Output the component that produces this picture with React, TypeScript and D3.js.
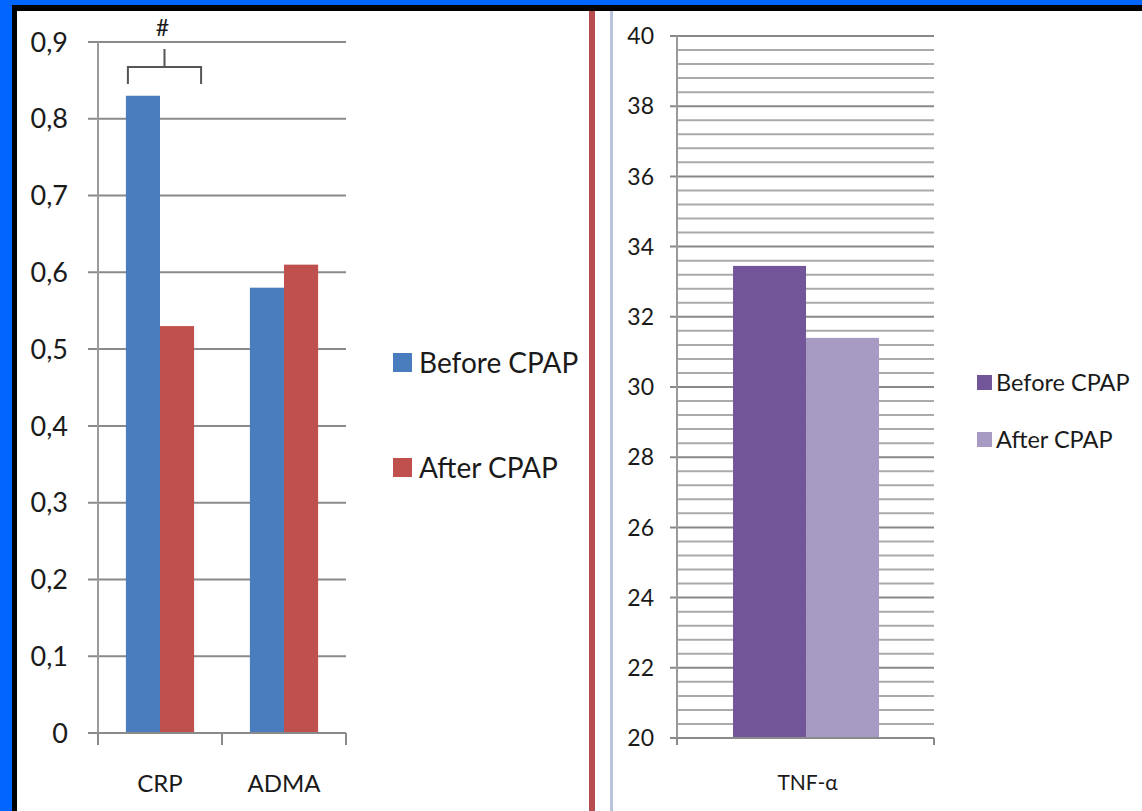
import React from "react";
import * as d3 from "d3";

const leftCategories = ["CRP", "ADMA"];
const leftSeries = ["Before CPAP", "After CPAP"];
const leftBefore = [0.83, 0.58];
const leftAfter = [0.53, 0.61];
const leftTicks = [0, 0.1, 0.2, 0.3, 0.4, 0.5, 0.6, 0.7, 0.8, 0.9];

const rightCategories = ["TNF-α"];
const rightSeries = ["Before CPAP", "After CPAP"];
const rightBefore = [33.45];
const rightAfter = [31.4];
const rightTicks = [20, 22, 24, 26, 28, 30, 32, 34, 36, 38, 40];

const leftColors = ["#4a7dbd", "#c0504d"];
const rightColors = ["#725699", "#a79bc4"];

const FONT = "Lato, 'Open Sans', sans-serif";

export default function App() {
  const W = 1142, H = 811;

  // Left chart scales
  const lx0 = d3.scaleBand<string>().domain(leftCategories).range([98, 346]);
  const lbw = lx0.bandwidth();
  const lx1 = d3.scaleBand<string>().domain(leftSeries).range([lbw * 0.225, lbw * 0.775]);
  const ly = d3.scaleLinear().domain([0, 0.9]).range([733, 42]);
  const leftVals = [leftBefore, leftAfter];

  // Right chart scales
  const rx0 = d3.scaleBand<string>().domain(rightCategories).range([677, 934]);
  const rbw = rx0.bandwidth();
  const rx1 = d3.scaleBand<string>().domain(rightSeries).range([rbw * 0.218, rbw * 0.786]);
  const ry = d3.scaleLinear().domain([20, 40]).range([738, 36]);
  const rightVals = [rightBefore, rightAfter];
  const minor = d3.range(0, 51).map((i) => 20 + i * 0.4).filter((v) => Math.abs(v / 2 - Math.round(v / 2)) > 0.01);

  const fmt = (v: number) => (v === 0 ? "0" : d3.format(".1f")(v).replace(".", ","));

  const crpX = lx0("CRP")!;
  const bx1 = crpX + lx1("Before CPAP")! + 2;
  const bx2 = crpX + lx1("After CPAP")! + lx1.bandwidth() + 7;
  const bmid = (bx1 + bx2) / 2;

  return (
    <svg width={W} height={H} style={{ position: "absolute", left: 0, top: 0 }} fontFamily={FONT}>
      <rect x={0} y={0} width={W} height={H} fill="#0066ff" />
      <rect x={12} y={5} width={W - 12} height={H - 5} fill="#000" />
      <rect x={17} y={11} width={W - 17} height={H - 11} fill="#ffffff" />

      {/* Left chart gridlines */}
      {leftTicks.map((t) => (
        <line key={"lg" + t} x1={88} x2={346} y1={ly(t)} y2={ly(t)} stroke="#8a8a8a" strokeWidth={2} />
      ))}
      {leftTicks.map((t) => (
        <text key={"lt" + t} x={68} y={ly(t)} dy="0.36em" textAnchor="end" fontSize={27} fill="#1a1a1a">
          {fmt(t)}
        </text>
      ))}
      {/* Left bars */}
      {leftCategories.map((c, ci) =>
        leftSeries.map((s, si) => (
          <rect
            key={c + s}
            x={lx0(c)! + lx1(s)!}
            y={ly(leftVals[si][ci])}
            width={lx1.bandwidth()}
            height={ly(0) - ly(leftVals[si][ci])}
            fill={leftColors[si]}
          />
        ))
      )}
      {/* Left axes */}
      <line x1={98} x2={98} y1={42} y2={745} stroke="#9a9a9a" strokeWidth={2} />
      <line x1={98} x2={346} y1={ly(0)} y2={ly(0)} stroke="#8a8a8a" strokeWidth={2} />
      {[98, 98 + lbw, 98 + 2 * lbw].map((x) => (
        <line key={"ltk" + x} x1={x} x2={x} y1={ly(0)} y2={745} stroke="#8a8a8a" strokeWidth={2} />
      ))}
      {leftCategories.map((c) => (
        <text key={"lc" + c} x={lx0(c)! + lbw / 2} y={792} textAnchor="middle" fontSize={24} fill="#1a1a1a">
          {c}
        </text>
      ))}
      {/* Significance bracket */}
      <path
        d={`M${bx1},84 V67 H${bx2} V84 M${bmid},67 V49`}
        fill="none"
        stroke="#555"
        strokeWidth={2}
      />
      <text x={bmid - 2} y={36} textAnchor="middle" fontSize={23} fill="#1a1a1a">#</text>

      {/* Left legend */}
      {leftSeries.map((s, i) => (
        <g key={"ll" + s} transform={`translate(393, ${353 + i * 105})`}>
          <rect x={0} y={0} width={19} height={19} fill={leftColors[i]} />
          <text x={26} y={20} fontSize={28} fill="#1a1a1a">{s}</text>
        </g>
      ))}

      {/* Separator */}
      <line x1={592} x2={592} y1={11} y2={H} stroke="#b54c52" strokeWidth={6} />
      <line x1={611.5} x2={611.5} y1={11} y2={H} stroke="#b9c4dc" strokeWidth={3} />

      {/* Right chart gridlines */}
      {minor.map((v) => (
        <line key={"rm" + v} x1={677} x2={934} y1={ry(v)} y2={ry(v)} stroke="#aaaaaa" strokeWidth={2} />
      ))}
      {rightTicks.map((t) => (
        <line key={"rg" + t} x1={670} x2={934} y1={ry(t)} y2={ry(t)} stroke="#888" strokeWidth={2} />
      ))}
      {rightTicks.map((t) => (
        <text key={"rt" + t} x={654} y={ry(t)} dy="0.36em" textAnchor="end" fontSize={23} fill="#1a1a1a">
          {t}
        </text>
      ))}
      {/* Right bars */}
      {rightCategories.map((c, ci) =>
        rightSeries.map((s, si) => (
          <rect
            key={c + s}
            x={rx0(c)! + rx1(s)!}
            y={ry(rightVals[si][ci])}
            width={rx1.bandwidth()}
            height={ry(20) - ry(rightVals[si][ci])}
            fill={rightColors[si]}
          />
        ))
      )}
      <line x1={677} x2={677} y1={36} y2={745} stroke="#9a9a9a" strokeWidth={2} />
      <line x1={677} x2={934} y1={ry(20)} y2={ry(20)} stroke="#8a8a8a" strokeWidth={2} />
      {[677, 934].map((x) => (
        <line key={"rtk" + x} x1={x} x2={x} y1={ry(20)} y2={745} stroke="#8a8a8a" strokeWidth={2} />
      ))}
      {rightCategories.map((c) => (
        <text key={"rc" + c} x={rx0(c)! + rbw / 2 + 2} y={790} textAnchor="middle" fontSize={21} fill="#1a1a1a">
          {c}
        </text>
      ))}
      {/* Right legend */}
      {rightSeries.map((s, i) => (
        <g key={"rl" + s} transform={`translate(977, ${375 + i * 57})`}>
          <rect x={0} y={0} width={15} height={15} fill={rightColors[i]} />
          <text x={19} y={16} fontSize={23.5} fill="#1a1a1a">{s}</text>
        </g>
      ))}
    </svg>
  );
}
